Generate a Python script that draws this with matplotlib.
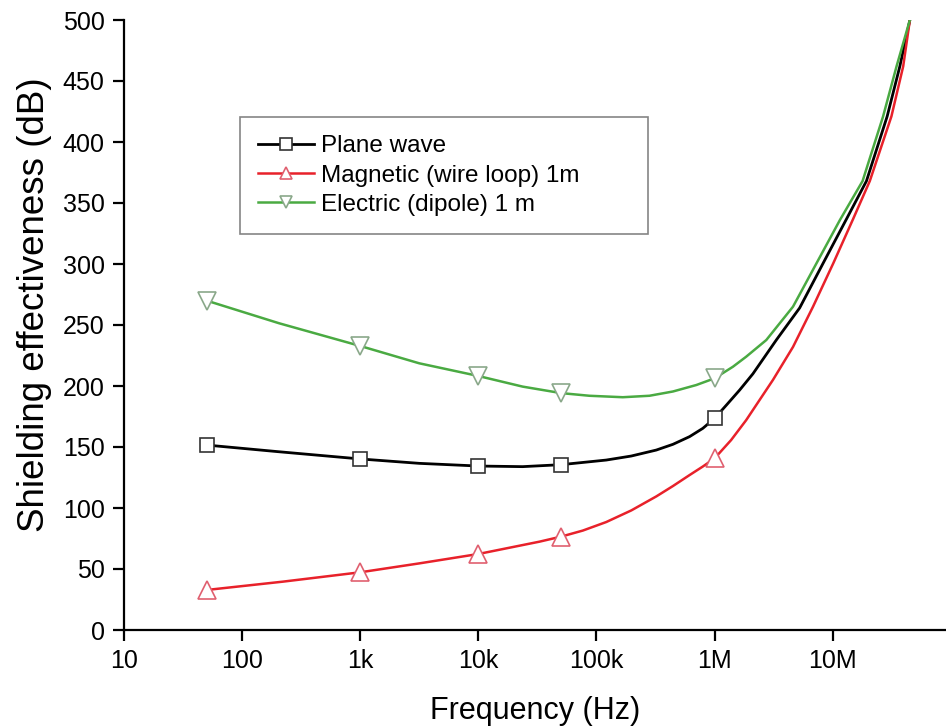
import matplotlib
matplotlib.use('Agg')
import matplotlib.pyplot as plt
from matplotlib.ticker import FixedLocator, NullLocator

plt.rcParams['font.family'] = ['Liberation Sans', 'DejaVu Sans']

# data (frequency in Hz, SE in dB)
pw_f = [50, 200, 1e3, 3.16e3, 1e4, 2.37e4, 5e4, 1.21e5, 1.97e5, 3.21e5, 4.44e5,
        6.14e5, 7.95e5, 1e6, 1.26e6, 1.63e6, 2.11e6, 3.33e6, 5.25e6, 8.28e6,
        1.31e7, 1.93e7, 2.89e7, 3.7e7, 4.5e7]
pw_se = [151.6, 146.2, 140.2, 136.6, 134.4, 133.9, 135.5, 139.3, 142.6, 147.5, 152.2,
         158.5, 165.3, 173.5, 184.4, 196.7, 210, 237.7, 264, 300.5,
         337, 368, 421, 462, 500]

mg_f = [50, 220, 1e3, 3.16e3, 1e4, 3.29e4, 5e4, 7.66e4, 1.21e5, 1.97e5,
        3.21e5, 4.44e5, 6.14e5, 7.95e5, 1e6, 1.38e6, 1.85e6, 3.12e6, 4.61e6,
        6.81e6, 1.01e7, 1.49e7, 2.06e7, 3.14e7, 3.95e7, 4.5e7]
mg_se = [32.8, 39.6, 47.3, 54.6, 62.3, 72.4, 76.5, 81.5, 88.5, 98,
         109.5, 118, 127, 134, 140.7, 155.7, 172, 205, 232,
         265, 300.5, 337, 368, 421, 462, 500]

el_f = [50, 206, 1e3, 3.16e3, 1e4, 2.37e4, 5e4, 8.7e4, 1.67e5, 2.81e5, 4.44e5,
        7e5, 1e6, 1.43e6, 1.85e6, 2.74e6, 4.61e6, 7.28e6, 1.15e7, 1.79e7,
        2.67e7, 3.47e7, 4.5e7]
el_se = [270, 251.4, 232.8, 218.6, 208.2, 199.5, 194.2, 192, 190.8, 192, 195.5,
         200.8, 206.3, 215.8, 224, 237.7, 265, 300.5, 336, 368,
         421, 462, 500]

# frequencies that carry a symbol
mark_f = [50, 1e3, 1e4, 5e4, 1e6]

xticks = [10, 100, 1e3, 1e4, 1e5, 1e6, 1e7]
xtick_labels = ['10', '100', '1k', '10k', '100k', '1M', '10M']
yticks = list(range(0, 501, 50))

fig = plt.figure(figsize=(9.46, 7.26), dpi=100)
ax = fig.add_axes([124 / 946, 1 - 630 / 726, 1 - 124 / 946, 610 / 726])


def marks(freqs):
    return [i for i, f in enumerate(freqs) if f in mark_f]


ax.plot(pw_f, pw_se, color='black', lw=2, marker='s', ms=10, mfc='white',
        mec='#333333', mew=1.2, markevery=marks(pw_f), label='Plane wave',
        solid_joinstyle='round')
ax.plot(mg_f, mg_se, color='#e8212a', lw=1.8, marker='^', ms=13, mfc='white',
        mec='#e06070', mew=1.2, markevery=marks(mg_f), label='Magnetic (wire loop) 1m',
        solid_joinstyle='round')
ax.plot(el_f, el_se, color='#4aaa42', lw=1.8, marker='v', ms=13, mfc='white',
        mec='#8aa88a', mew=1.2, markevery=marks(el_f), label='Electric (dipole) 1 m',
        solid_joinstyle='round')

ax.set_xscale('log')
ax.set_xlim(10, 9.1e7)
ax.set_ylim(0, 500)
ax.xaxis.set_major_locator(FixedLocator(xticks))
ax.xaxis.set_minor_locator(NullLocator())
ax.set_xticklabels(xtick_labels)
ax.set_yticks(yticks)

for s in ['top', 'right']:
    ax.spines[s].set_visible(False)
for s in ['left', 'bottom']:
    ax.spines[s].set_linewidth(1.6)
ax.tick_params(direction='out', length=8, width=1.6, labelsize=18, pad=6)

ax.set_xlabel('Frequency (Hz)', fontsize=22, labelpad=16)
ax.set_ylabel('Shielding effectiveness (dB)', fontsize=26.5)
ax.yaxis.set_label_coords(-0.088, 0.533)

leg = ax.legend(loc='upper left', bbox_to_anchor=(240 / 946, 1 - 235 / 726, 408 / 946, 118 / 726),
                bbox_transform=fig.transFigure, mode='expand', fontsize=17.5, frameon=True,
                fancybox=False, edgecolor='#666666', handlelength=2.3,
                labelspacing=0.3, borderpad=0.75, handletextpad=0.3, borderaxespad=0)
leg.get_frame().set_linewidth(1.2)
for h in leg.legend_handles:
    h.set_markersize(9)

fig.savefig('out.png', dpi=100)
